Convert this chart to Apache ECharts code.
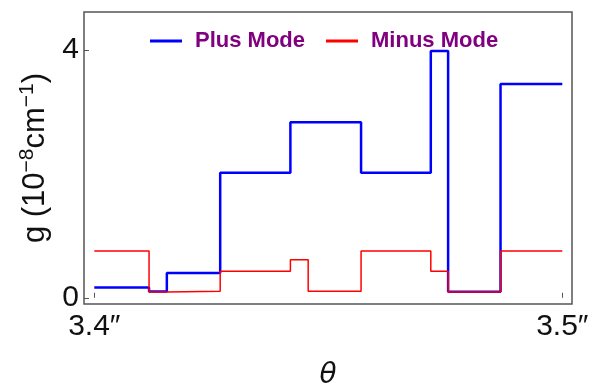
<!DOCTYPE html>
<html><head><meta charset="utf-8">
<script src="https://cdn.jsdelivr.net/npm/echarts@6/dist/echarts.min.js"></script>
<style>html,body{margin:0;padding:0;background:#fff}#c{width:589px;height:388px}</style>
</head><body><div id="c"></div>
<script>
// step edges (theta, arcsec) and level of each step
const plusEdges  = [3.4, 3.4117, 3.4155, 3.4269, 3.4419, 3.457, 3.4719, 3.4756, 3.4868, 3.5];
const plusLevels = [0.166, 0.10, 0.40, 2.016, 2.83, 2.016, 3.98, 0.097, 3.45];
const minusEdges  = [3.4, 3.4117, 3.4155, 3.4269, 3.4419, 3.4457, 3.457, 3.4719, 3.4756, 3.4868, 3.5];
const minusLevels = [0.753, 0.092, 0.105, 0.43, 0.613, 0.105, 0.753, 0.43, 0.092, 0.753];
const xTicks = [3.4, 3.5];
const yTicks = [0, 4];
const seriesNames = ['Plus Mode', 'Minus Mode'];

function stepData(edges, levels) {
  const d = levels.map((v, i) => [edges[i], v]);
  d.push([edges[edges.length - 1], levels[levels.length - 1]]);
  return d;
}

const chart = echarts.init(document.getElementById('c'), null, {renderer: 'canvas'});
const font = 'Liberation Sans, Arial, sans-serif';
chart.setOption({
  animation: false,
  backgroundColor: '#fff',
  grid: {left: 84, right: 17, top: 12, bottom: 84, show: true, borderColor: '#555', borderWidth: 1.5,
         backgroundColor: 'transparent', outerBoundsMode: 'none', containLabel: false},
  legend: {
    top: 30, left: 150, padding: 0, itemWidth: 32, itemHeight: 3, itemGap: 21,
    icon: 'rect',
    textStyle: {color: '#800080', fontWeight: 'bold', fontSize: 22, fontFamily: font, padding: [0, 0, 0, 8]},
    data: seriesNames
  },
  xAxis: {
    type: 'value', min: 3.3978, max: 3.50207,
    axisLine: {show: false},
    splitLine: {show: false},
    axisTick: {show: true, inside: true, length: 5, lineStyle: {color: '#555'}, customValues: xTicks},
    axisLabel: {customValues: xTicks, formatter: v => v.toFixed(1) + '″', color: '#111', fontSize: 30, fontFamily: font, margin: 8},
    name: 'θ', nameLocation: 'middle', nameGap: 58,
    nameTextStyle: {fontSize: 28, fontStyle: 'italic', color: '#111', fontFamily: 'DejaVu Sans, sans-serif'}
  },
  yAxis: {
    type: 'value', min: -0.1, max: 4.61,
    axisLine: {show: false},
    splitLine: {show: false},
    axisTick: {show: true, inside: true, length: 5, lineStyle: {color: '#555'}, customValues: yTicks},
    axisLabel: {customValues: yTicks, color: '#111', fontSize: 30, fontFamily: font, margin: 5},
    name: '{a|g (10}{s|−8}{a|cm}{s|−1}{a|)}', nameLocation: 'middle', nameGap: 30, nameRotate: 90,
    nameTextStyle: {
      rich: {
        a: {fontSize: 31, color: '#111', fontFamily: font},
        s: {fontSize: 21, color: '#111', fontFamily: font, padding: [0, 0, 16, 0]}
      }
    }
  },
  series: [
    {name: seriesNames[0], type: 'line', step: 'end', data: stepData(plusEdges, plusLevels), symbol: 'none',
     lineStyle: {color: '#0000ff', width: 2.5}, itemStyle: {color: '#0000ff'}, z: 3},
    {name: seriesNames[1], type: 'line', step: 'end', data: stepData(minusEdges, minusLevels), symbol: 'none',
     lineStyle: {color: '#ff0000', width: 1.5}, itemStyle: {color: '#ff0000'}, z: 4}
  ]
});
</script></body></html>
